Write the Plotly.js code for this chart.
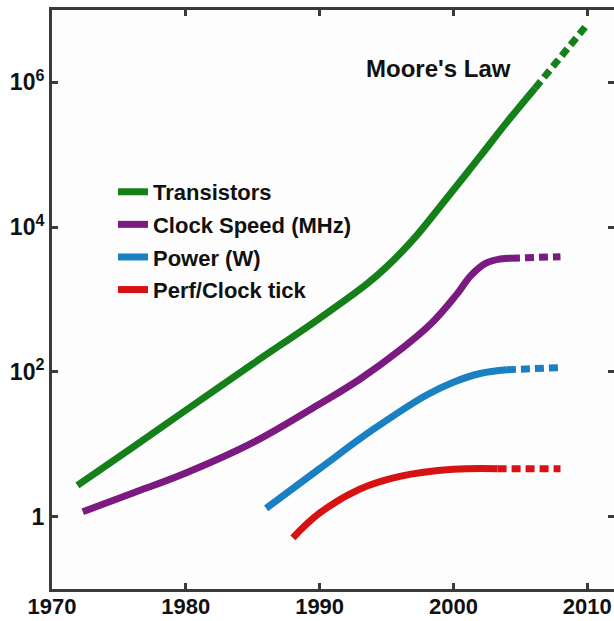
<!DOCTYPE html>
<html>
<head>
<meta charset="utf-8">
<script src="https://cdn.plot.ly/plotly-3.0.1.min.js"></script>
<style>html,body{margin:0;padding:0;background:#fff;}#chart{width:614px;height:621px;}</style>
</head>
<body>
<div id="chart"></div>
<script>
// ---- data ----
const seriesNames = ["Transistors", "Clock Speed (MHz)", "Power (W)", "Perf/Clock tick"];

const transistorYears  = [1971.9, 1976, 1980, 1985, 1990, 1993.5, 1995, 1997, 1999.5, 2002, 2004, 2006.1];
const transistorValues = [2.7, 9.0, 29.5, 129, 550, 1620, 2820, 6760, 25100, 95500, 282000, 830000];
const transistorProjYears  = [2006.1, 2010];
const transistorProjValues = [830000, 6300000];

const clockYears  = [1972.3, 1976, 1980, 1985, 1990, 1993, 1996, 1998.3, 2000.2, 2001.3, 2002.4, 2003.5, 2004.3];
const clockValues = [1.17, 2.1, 4.0, 10.5, 36, 79, 200, 457, 1150, 2140, 3160, 3630, 3720];
const clockProjYears  = [2004.3, 2008];
const clockProjValues = [3720, 3900];

const powerYears  = [1986, 1990, 1994, 1998, 2000, 2002, 2004];
const powerValues = [1.3, 4.6, 16, 48, 72, 95, 107];
const powerProjYears  = [2004, 2008.1];
const powerProjValues = [107, 115];

const perfYears  = [1988, 1990, 1993, 1996, 2000, 2003.3];
const perfValues = [0.51, 1.12, 2.4, 3.6, 4.5, 4.6];
const perfProjYears  = [2003.3, 2008];
const perfProjValues = [4.6, 4.6];

const xTickVals = [1970, 1980, 1990, 2000, 2010];
const xTickText = ["1970", "1980", "1990", "2000", "2010"];
const yTickVals = [1, 100, 10000, 1000000];
const yTickText = ["1", "10<sup>2</sup>", "10<sup>4</sup>", "10<sup>6</sup>"];

// ---- styles ----
const colors = ["#15801a", "#7b1a80", "#1a80c2", "#d81212"];
const LW = 7;
const FONT = "Liberation Sans, Arial, sans-serif";

function solid(name, x, y, c, i) {
  return {x: x, y: y, name: name, type: "scatter", mode: "lines",
    line: {color: c, width: LW, shape: "spline", smoothing: 1.1},
    legendgroup: "g" + i, showlegend: true, hoverinfo: "skip"};
}
function proj(x, y, c, i) {
  return {x: x, y: y, type: "scatter", mode: "lines",
    line: {color: c, width: LW, dash: "9px,5px"},
    legendgroup: "g" + i, showlegend: false, hoverinfo: "skip"};
}

const data = [
  solid(seriesNames[0], transistorYears, transistorValues, colors[0], 0),
  solid(seriesNames[1], clockYears, clockValues, colors[1], 1),
  solid(seriesNames[2], powerYears, powerValues, colors[2], 2),
  solid(seriesNames[3], perfYears, perfValues, colors[3], 3),
  proj(transistorProjYears, transistorProjValues, colors[0], 0),
  proj(clockProjYears, clockProjValues, colors[1], 1),
  proj(powerProjYears, powerProjValues, colors[2], 2),
  proj(perfProjYears, perfProjValues, colors[3], 3)
];

const axisCommon = {
  showline: true, linecolor: "#3a3a3a", linewidth: 3, mirror: "ticks",
  ticks: "inside", ticklen: 6, tickwidth: 3, tickcolor: "#3a3a3a",
  showgrid: false, zeroline: false
};

const layout = {
  width: 614, height: 621,
  margin: {l: 52, r: 0, t: 10, b: 32, pad: 0},
  paper_bgcolor: "#ffffff", plot_bgcolor: "#fdfdfd",
  showlegend: true,
  legend: {x: 0.1085, y: 0.722, xanchor: "left", yanchor: "top",
    bgcolor: "rgba(0,0,0,0)", borderwidth: 0,
    traceorder: "grouped", tracegroupgap: 1,
    font: {family: FONT, size: 22, color: "#111", weight: "bold"}},
  xaxis: Object.assign({}, axisCommon, {
    range: [1970, 2012], tickmode: "array", tickvals: xTickVals, ticktext: xTickText,
    ticklabelstandoff: -4,
    tickfont: {family: FONT, size: 22, color: "#111", weight: "bold"}
  }),
  yaxis: Object.assign({}, axisCommon, {
    type: "log", range: [-1, 7], tickmode: "array", tickvals: yTickVals, ticktext: yTickText,
    ticklabelstandoff: 0,
    tickfont: {family: FONT, size: 23, color: "#111", weight: "bold"}
  }),
  annotations: [{
    text: "Moore's Law", xref: "paper", yref: "paper", x: 0.6886, y: 0.8997,
    xanchor: "center", yanchor: "middle",
    showarrow: false, font: {family: FONT, size: 24, color: "#111", weight: "bold"}
  }]
};

Plotly.newPlot("chart", data, layout, {displayModeBar: false, staticPlot: true});
</script>
</body>
</html>
